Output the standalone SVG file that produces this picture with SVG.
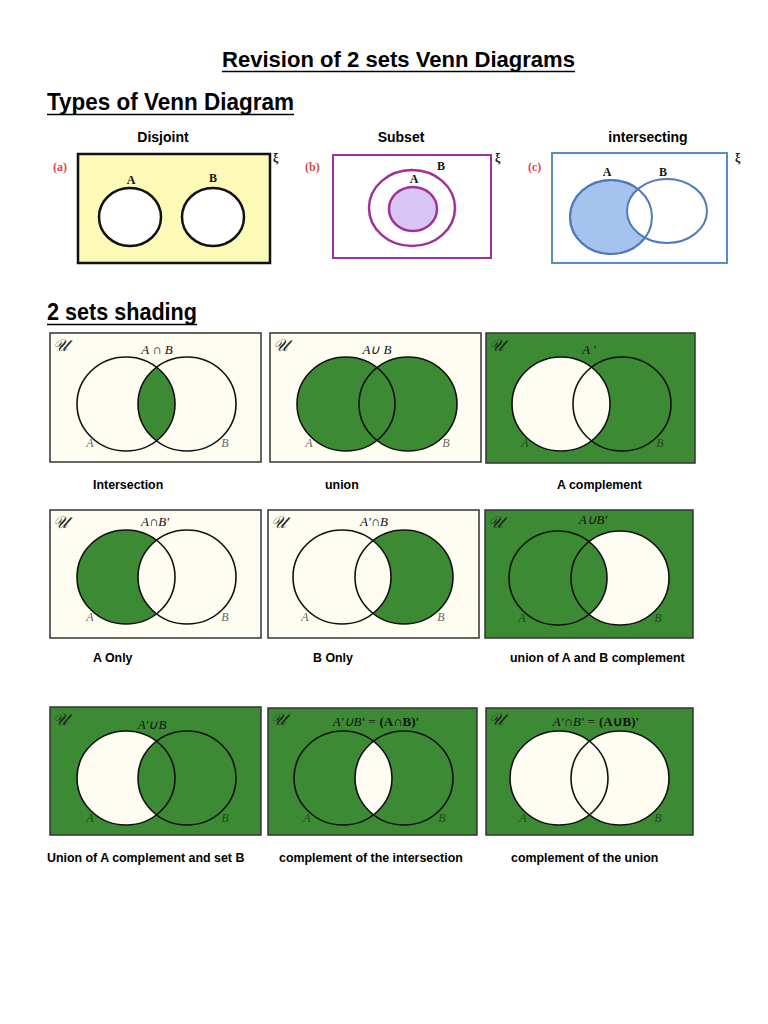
<svg xmlns="http://www.w3.org/2000/svg" width="768" height="1024" viewBox="0 0 768 1024">
<style>
.h{font-family:"Liberation Sans",Arial,sans-serif;font-weight:bold;fill:#000}
.cap{font-family:"Liberation Sans",Arial,sans-serif;font-weight:bold;font-size:12.4px;fill:#000}
.tl{font-family:"Liberation Sans",Arial,sans-serif;font-weight:bold;font-size:14px;fill:#000}
.lbl{font-family:"Liberation Serif","Times New Roman",serif;font-weight:bold;font-size:12px;fill:#111}
.red{font-family:"Liberation Serif","Times New Roman",serif;font-weight:bold;font-size:12px;fill:#e0454a}
.xi{font-family:"Liberation Serif","Times New Roman",serif;font-weight:bold;font-size:12px;fill:#222}
.pc{fill:#fffdf1;stroke:#333;stroke-width:1.5}
.pg{fill:#3d8a34;stroke:#333;stroke-width:1.5}
.g{fill:#3d8a34}
.w{fill:#fffdf1}
.o{fill:none;stroke:#111;stroke-width:1.6}
.f{font-family:"Liberation Serif","Times New Roman",serif;font-style:italic;font-size:13px;fill:#111}
.u{font-family:"DejaVu Serif","Liberation Serif",serif;font-style:italic;font-size:17px;fill:#222}
.ab{font-family:"Liberation Serif","Times New Roman",serif;font-style:italic;font-size:12px;fill:#666}
.abg{font-family:"Liberation Serif","Times New Roman",serif;font-style:italic;font-size:12px;fill:#1d4a18}
</style>
<defs>
<clipPath id="cB1"><ellipse cx="187" cy="404" rx="49" ry="47"/></clipPath>
<clipPath id="cA4"><ellipse cx="126" cy="577" rx="49" ry="47"/></clipPath>
<clipPath id="cA5"><ellipse cx="342" cy="577" rx="49" ry="47"/></clipPath>
<clipPath id="cA6"><ellipse cx="558" cy="578" rx="49" ry="47"/></clipPath>
<clipPath id="cB7"><ellipse cx="187" cy="778" rx="49" ry="47"/></clipPath>
<clipPath id="cB8"><ellipse cx="404" cy="778" rx="49" ry="47"/></clipPath>
</defs>
<rect width="768" height="1024" fill="#fff"/>

<g id="headings">
<text class="h" x="222" y="67" font-size="22" textLength="353" lengthAdjust="spacingAndGlyphs">Revision of 2 sets Venn Diagrams</text>
<line x1="222" y1="71.5" x2="575" y2="71.5" stroke="#000" stroke-width="1.5"/>
<text class="h" x="47" y="110" font-size="24" textLength="247" lengthAdjust="spacingAndGlyphs">Types of Venn Diagram</text>
<line x1="47" y1="114.5" x2="294" y2="114.5" stroke="#000" stroke-width="1.6"/>
<text class="h" x="47" y="320" font-size="24" textLength="150" lengthAdjust="spacingAndGlyphs">2 sets shading</text>
<line x1="47" y1="324.5" x2="197" y2="324.5" stroke="#000" stroke-width="1.6"/>
</g>

<g id="disjoint">
<text class="tl" x="163" y="142" text-anchor="middle">Disjoint</text>
<rect x="78" y="154" width="192" height="109" fill="#fdf9b6" stroke="#111" stroke-width="2.5"/>
<ellipse cx="130" cy="217" rx="31" ry="29" fill="#fff" stroke="#111" stroke-width="2.5"/>
<ellipse cx="213" cy="217" rx="31" ry="29" fill="#fff" stroke="#111" stroke-width="2.5"/>
<text class="lbl" x="131" y="184" text-anchor="middle">A</text>
<text class="lbl" x="213" y="182" text-anchor="middle">B</text>
<text class="red" x="53" y="171">(a)</text>
<text class="xi" x="273" y="162">ξ</text>
</g>

<g id="subset">
<text class="tl" x="401" y="142" text-anchor="middle">Subset</text>
<rect x="333" y="155" width="158" height="103" fill="#fff" stroke="#a0309a" stroke-width="2"/>
<ellipse cx="412" cy="208" rx="43" ry="38" fill="none" stroke="#a0309a" stroke-width="2.5"/>
<ellipse cx="413" cy="209" rx="24" ry="22" fill="#d7c5f4" stroke="#a0309a" stroke-width="2.5"/>
<text class="lbl" x="441" y="170" text-anchor="middle">B</text>
<text class="lbl" x="414" y="183" text-anchor="middle">A</text>
<text class="red" x="305" y="171">(b)</text>
<text class="xi" x="495" y="162">ξ</text>
</g>

<g id="intersecting">
<text class="tl" x="648" y="142" text-anchor="middle">intersecting</text>
<rect x="552" y="153" width="175" height="110" fill="#fff" stroke="#5b8bc8" stroke-width="2"/>
<ellipse cx="611" cy="217" rx="41" ry="37" fill="#a6c3ef" stroke="#4d7cb8" stroke-width="2"/>
<ellipse cx="667" cy="211" rx="40" ry="32" fill="#fff" stroke="#4d7cb8" stroke-width="2"/>
<ellipse cx="611" cy="217" rx="41" ry="37" fill="none" stroke="#4d7cb8" stroke-width="2"/>
<text class="lbl" x="607" y="176" text-anchor="middle">A</text>
<text class="lbl" x="663" y="176" text-anchor="middle">B</text>
<text class="red" x="528" y="171">(c)</text>
<text class="xi" x="735" y="162">ξ</text>
</g>

<g id="p-intersection">
<rect class="pc" x="50" y="333" width="211" height="129"/>
<ellipse class="g" cx="126" cy="404" rx="49" ry="47" clip-path="url(#cB1)"/>
<ellipse class="o" cx="126" cy="404" rx="49" ry="47"/>
<ellipse class="o" cx="187" cy="404" rx="49" ry="47"/>
<text class="u" x="53" y="351">𝒰</text>
<text class="f" x="157" y="354" text-anchor="middle">A ∩ B</text>
<text class="ab" x="90" y="447" text-anchor="middle">A</text>
<text class="ab" x="225" y="447" text-anchor="middle">B</text>
<text class="cap" x="93" y="489">Intersection</text>
</g>

<g id="p-union">
<rect class="pc" x="270" y="333" width="211" height="129"/>
<ellipse class="g" cx="346" cy="404" rx="49" ry="47"/>
<ellipse class="g" cx="408" cy="404" rx="49" ry="47"/>
<ellipse class="o" cx="346" cy="404" rx="49" ry="47"/>
<ellipse class="o" cx="408" cy="404" rx="49" ry="47"/>
<text class="u" x="273" y="351">𝒰</text>
<text class="f" x="377" y="354" text-anchor="middle">A∪ B</text>
<text class="ab" x="309" y="447" text-anchor="middle">A</text>
<text class="ab" x="446" y="447" text-anchor="middle">B</text>
<text class="cap" x="325" y="489">union</text>
</g>

<g id="p-acomp">
<rect class="pg" x="486" y="333" width="209" height="130"/>
<ellipse class="w" cx="561" cy="404" rx="49" ry="47"/>
<ellipse class="o" cx="561" cy="404" rx="49" ry="47"/>
<ellipse class="o" cx="622" cy="404" rx="49" ry="47"/>
<text class="u" x="489" y="351">𝒰</text>
<text class="f" x="589" y="354" text-anchor="middle">A '</text>
<text class="abg" x="525" y="447" text-anchor="middle">A</text>
<text class="abg" x="660" y="447" text-anchor="middle">B</text>
<text class="cap" x="557" y="489">A complement</text>
</g>

<g id="p-aonly">
<rect class="pc" x="50" y="510" width="211" height="128"/>
<ellipse class="g" cx="126" cy="577" rx="49" ry="47"/>
<ellipse class="w" cx="187" cy="577" rx="49" ry="47" clip-path="url(#cA4)"/>
<ellipse class="o" cx="126" cy="577" rx="49" ry="47"/>
<ellipse class="o" cx="187" cy="577" rx="49" ry="47"/>
<text class="u" x="53" y="528">𝒰</text>
<text class="f" x="155" y="526" text-anchor="middle">A∩B'</text>
<text class="ab" x="90" y="621" text-anchor="middle">A</text>
<text class="ab" x="225" y="621" text-anchor="middle">B</text>
<text class="cap" x="93" y="662">A Only</text>
</g>

<g id="p-bonly">
<rect class="pc" x="268" y="510" width="211" height="128"/>
<ellipse class="g" cx="404" cy="577" rx="49" ry="47"/>
<ellipse class="w" cx="404" cy="577" rx="49" ry="47" clip-path="url(#cA5)"/>
<ellipse class="o" cx="342" cy="577" rx="49" ry="47"/>
<ellipse class="o" cx="404" cy="577" rx="49" ry="47"/>
<text class="u" x="271" y="528">𝒰</text>
<text class="f" x="374" y="526" text-anchor="middle">A'∩B</text>
<text class="ab" x="305" y="621" text-anchor="middle">A</text>
<text class="ab" x="441" y="621" text-anchor="middle">B</text>
<text class="cap" x="313" y="662">B Only</text>
</g>

<g id="p-aubcomp">
<rect class="pg" x="485" y="510" width="208" height="128"/>
<ellipse class="w" cx="620" cy="578" rx="49" ry="47"/>
<ellipse class="g" cx="620" cy="578" rx="49" ry="47" clip-path="url(#cA6)"/>
<ellipse class="o" cx="558" cy="578" rx="49" ry="47"/>
<ellipse class="o" cx="620" cy="578" rx="49" ry="47"/>
<text class="u" x="488" y="528">𝒰</text>
<text class="f" x="593" y="524" text-anchor="middle">A∪B'</text>
<text class="abg" x="522" y="622" text-anchor="middle">A</text>
<text class="abg" x="658" y="622" text-anchor="middle">B</text>
<text class="cap" x="510" y="662">union of A and B complement</text>
</g>

<g id="p-acompub">
<rect class="pg" x="50" y="707" width="211" height="128"/>
<ellipse class="w" cx="126" cy="778" rx="49" ry="47"/>
<ellipse class="g" cx="126" cy="778" rx="49" ry="47" clip-path="url(#cB7)"/>
<ellipse class="o" cx="126" cy="778" rx="49" ry="47"/>
<ellipse class="o" cx="187" cy="778" rx="49" ry="47"/>
<text class="u" x="53" y="725">𝒰</text>
<text class="f" x="152" y="729" text-anchor="middle">A'∪B</text>
<text class="abg" x="90" y="822" text-anchor="middle">A</text>
<text class="abg" x="225" y="822" text-anchor="middle">B</text>
<text class="cap" x="47" y="862">Union of A complement and set B</text>
</g>

<g id="p-compint">
<rect class="pg" x="268" y="708" width="209" height="127"/>
<ellipse class="w" cx="343" cy="778" rx="49" ry="47" clip-path="url(#cB8)"/>
<ellipse class="o" cx="343" cy="778" rx="49" ry="47"/>
<ellipse class="o" cx="404" cy="778" rx="49" ry="47"/>
<text class="u" x="271" y="725">𝒰</text>
<text class="f" x="376" y="726" text-anchor="middle">A'∪B' = <tspan font-style="normal" font-weight="bold">(A∩B)'</tspan></text>
<text class="abg" x="307" y="822" text-anchor="middle">A</text>
<text class="abg" x="442" y="822" text-anchor="middle">B</text>
<text class="cap" x="279" y="862">complement of the intersection</text>
</g>

<g id="p-compunion">
<rect class="pg" x="486" y="708" width="207" height="127"/>
<ellipse class="w" cx="559" cy="778" rx="49" ry="47"/>
<ellipse class="w" cx="620" cy="778" rx="49" ry="47"/>
<ellipse class="o" cx="559" cy="778" rx="49" ry="47"/>
<ellipse class="o" cx="620" cy="778" rx="49" ry="47"/>
<text class="u" x="489" y="725">𝒰</text>
<text class="f" x="596" y="726" text-anchor="middle">A'∩B' = <tspan font-style="normal" font-weight="bold">(A∪B)'</tspan></text>
<text class="abg" x="523" y="822" text-anchor="middle">A</text>
<text class="abg" x="658" y="822" text-anchor="middle">B</text>
<text class="cap" x="511" y="862">complement of the union</text>
</g>
</svg>
